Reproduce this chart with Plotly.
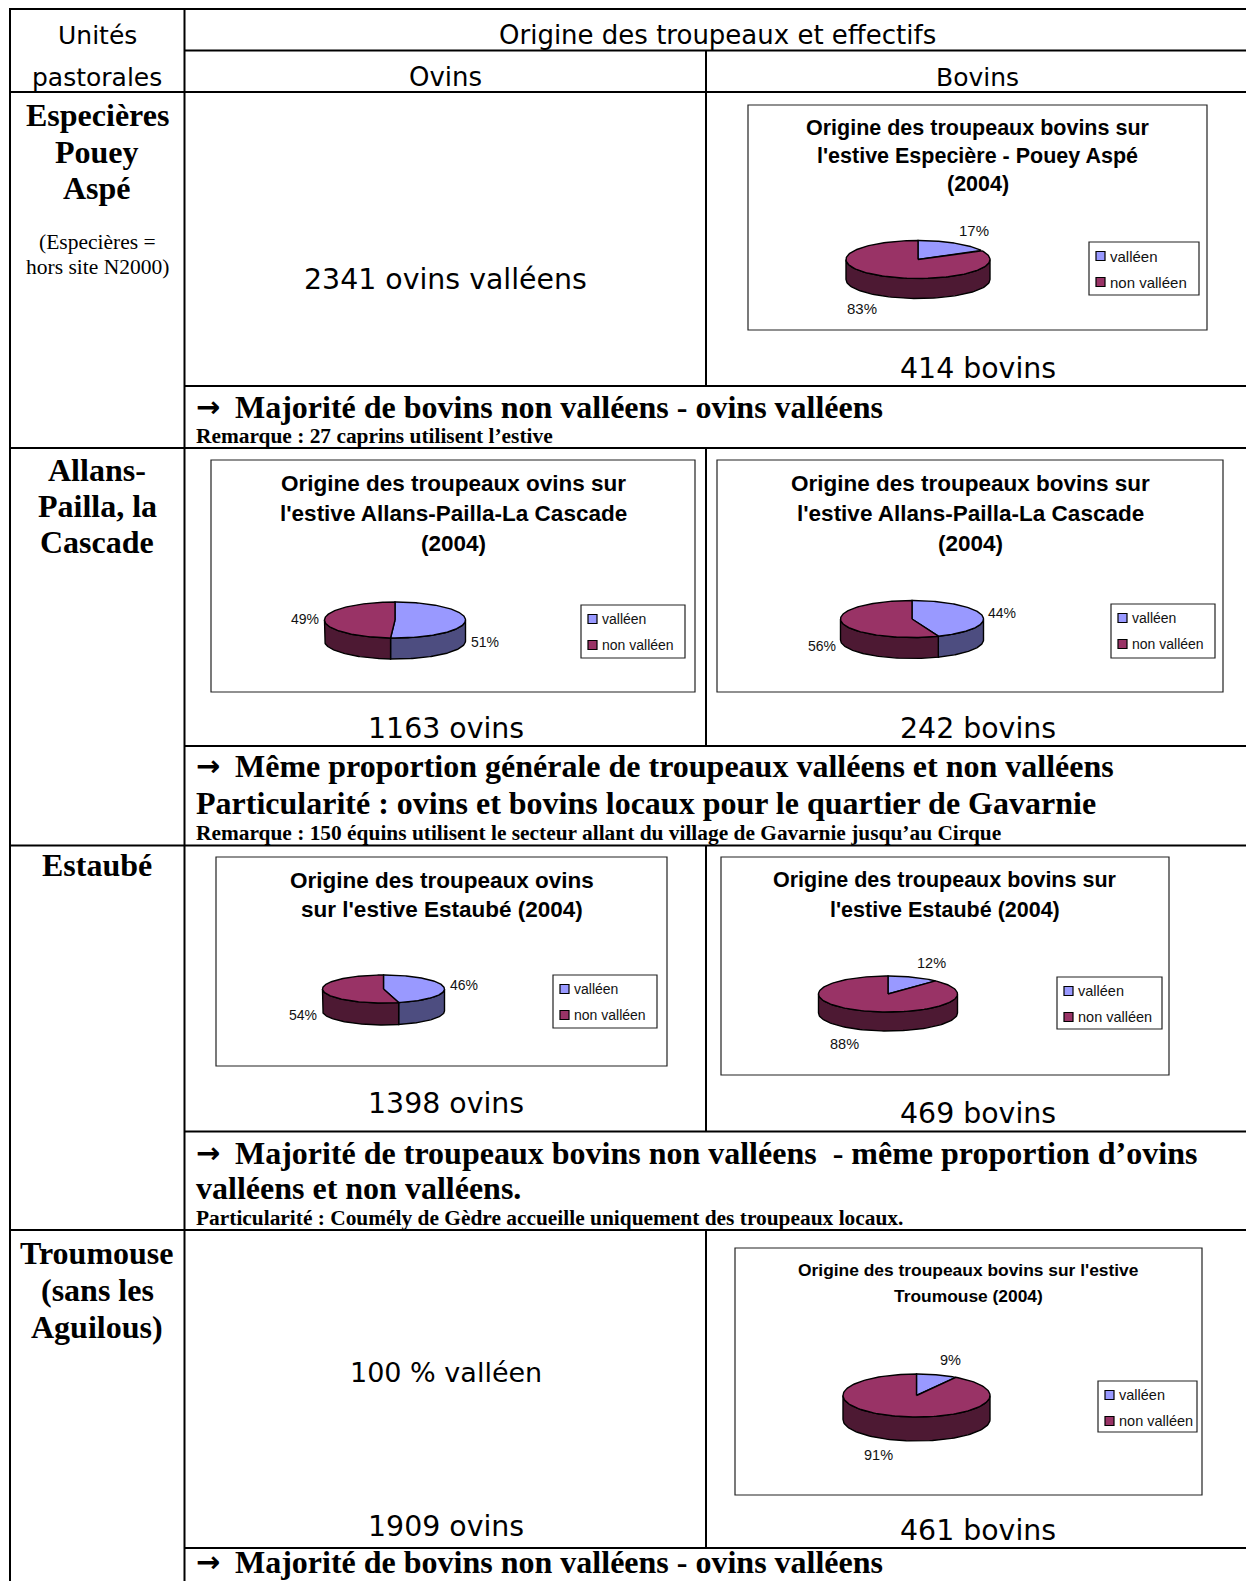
import numpy as np
import plotly.graph_objects as go

W, H = 1246, 1581

# ---------------- data ----------------
categories = ["valléen", "non valléen"]
top_colors = ["#9999FF", "#993366"]
side_colors = ["#4D4D80", "#4D1933"]

unit_names = [["Especières", "Pouey", "Aspé"],
              ["Allans-", "Pailla, la", "Cascade"],
              ["Estaubé"],
              ["Troumouse", "(sans les", "Aguilous)"]]
unit_note = ["(Especières =", "hors site N2000)"]

ovins_counts = [2341, 1163, 1398, 1909]
bovins_counts = [414, 242, 469, 461]

pct_bov_especiere = [17, 83]
pct_ov_allans = [51, 49]
pct_bov_allans = [44, 56]
pct_ov_estaube = [46, 54]
pct_bov_estaube = [12, 88]
pct_bov_troumouse = [9, 91]

header_units = ["Unités", "pastorales"]
header_main = "Origine des troupeaux et effectifs"
header_cols = ["Ovins", "Bovins"]

ARROW = "→"
conclusions = [
    [("Majorité de bovins non valléens - ovins valléens", "arrow"),
     ("Remarque : 27 caprins utilisent l’estive", "small")],
    [("Même proportion générale de troupeaux valléens et non valléens", "arrow"),
     ("Particularité : ovins et bovins locaux pour le quartier de Gavarnie", "big"),
     ("Remarque : 150 équins utilisent le secteur allant du village de Gavarnie jusqu’au Cirque", "small")],
    [("Majorité de troupeaux bovins non valléens  - même proportion d’ovins", "arrow"),
     ("valléens et non valléens.", "big"),
     ("Particularité : Coumély de Gèdre accueille uniquement des troupeaux locaux.", "small")],
    [("Majorité de bovins non valléens - ovins valléens", "arrow")],
]

# ---------------- layout specs (positions / styles) ----------------
charts = [
    dict(title=["Origine des troupeaux bovins sur", "l'estive Especière - Pouey Aspé", "(2004)"],
         title_y=[128, 156, 184], tsize=21.5, values=pct_bov_especiere,
         box=(748, 105, 1207, 330), pie=(918, 259.5, 72, 19, 20),
         legend=(1089, 242, 1199, 295), lsize=15),
    dict(title=["Origine des troupeaux ovins sur", "l'estive Allans-Pailla-La Cascade", "(2004)"],
         title_y=[483, 513, 543], tsize=22.5, values=pct_ov_allans,
         box=(211, 460, 695, 692), pie=(395, 620, 70.5, 18, 21),
         legend=(581, 605, 685, 658), lsize=14),
    dict(title=["Origine des troupeaux bovins sur", "l'estive Allans-Pailla-La Cascade", "(2004)"],
         title_y=[483, 513, 543], tsize=22.5, values=pct_bov_allans,
         box=(717, 460, 1223, 692), pie=(912, 619, 71.5, 18.5, 21),
         legend=(1111, 604, 1215, 658), lsize=14),
    dict(title=["Origine des troupeaux ovins", "sur l'estive Estaubé (2004)"],
         title_y=[880, 909], tsize=22.5, values=pct_ov_estaube,
         box=(216, 857, 667, 1066), pie=(383.5, 989, 61, 14, 22),
         legend=(553, 975, 657, 1028), lsize=14),
    dict(title=["Origine des troupeaux bovins sur", "l'estive Estaubé (2004)"],
         title_y=[880, 910], tsize=21.5, values=pct_bov_estaube,
         box=(721, 857, 1169, 1075), pie=(888, 994, 69.5, 18, 19),
         legend=(1057, 977, 1162, 1029), lsize=14.5),
    dict(title=["Origine des troupeaux bovins sur l'estive", "Troumouse (2004)"],
         title_y=[1270, 1296], tsize=17.4, values=pct_bov_troumouse,
         box=(735, 1248, 1202, 1495), pie=(916.5, 1395.5, 73.5, 21.5, 24),
         legend=(1098, 1381, 1197, 1432), lsize=14.5),
]

SANS = "DejaVu Sans"
SERIF = "Liberation Serif"
ARIAL = "Liberation Sans"

fig = go.Figure()
shapes = []
annotations = []


def txt(x, y, text, size, family, bold=False, xanchor="center", yanchor="middle", color="black"):
    annotations.append(dict(
        x=x, y=y, xref="x", yref="y", text=("<b>%s</b>" % text) if bold else text,
        showarrow=False, xanchor=xanchor, yanchor=yanchor,
        font=dict(size=size, family=family, color=color)))


def hline(y, x0, x1, w=2):
    shapes.append(dict(type="line", xref="x", yref="y", x0=x0, x1=x1, y0=y, y1=y,
                       line=dict(color="black", width=w)))


def vline(x, y0, y1, w=2):
    shapes.append(dict(type="line", xref="x", yref="y", x0=x, x1=x, y0=y0, y1=y1,
                       line=dict(color="black", width=w)))


def rect(x0, y0, x1, y1, color="#333333", w=1, fill="rgba(0,0,0,0)"):
    shapes.append(dict(type="rect", xref="x", yref="y", x0=x0, x1=x1, y0=y0, y1=y1,
                       line=dict(color=color, width=w), fillcolor=fill))


def pie3d(spec):
    cx, cy, rx, ry, depth = spec["pie"]
    vals = np.array(spec["values"], dtype=float)
    fr = vals / vals.sum()
    ends = np.cumsum(fr) * 360.0
    starts = np.concatenate([[0.0], ends[:-1]])
    # side walls (front half: 90..270 deg clockwise from top)
    for i in range(len(vals)):
        a, b = max(starts[i], 90.0), min(ends[i], 270.0)
        if b <= a:
            continue
        t = np.radians(np.linspace(a, b, 80))
        xs = cx + rx * np.sin(t)
        ys = cy - ry * np.cos(t)
        px = np.concatenate([xs, xs[::-1], xs[:1]])
        py = np.concatenate([ys, ys[::-1] + depth, ys[:1]])
        fig.add_trace(go.Scatter(x=px, y=py, mode="lines", fill="toself",
                                 fillcolor=side_colors[i], line=dict(color="black", width=1.4),
                                 hoverinfo="skip", showlegend=False))
    # top faces
    for i in range(len(vals)):
        t = np.radians(np.linspace(starts[i], ends[i], 160))
        xs = np.concatenate([[cx], cx + rx * np.sin(t), [cx]])
        ys = np.concatenate([[cy], cy - ry * np.cos(t), [cy]])
        fig.add_trace(go.Scatter(x=xs, y=ys, mode="lines", fill="toself",
                                 fillcolor=top_colors[i], line=dict(color="black", width=1.4),
                                 hoverinfo="skip", showlegend=False))
    # percentage labels
    for i in range(len(vals)):
        m = np.radians((starts[i] + ends[i]) / 2.0)
        s, c = np.sin(m), np.cos(m)
        x = cx + (rx + 4) * s
        y = cy - (ry + 15) * c + (depth if c < 0 else 0)
        txt(x, y, "%d%%" % round(vals[i]), spec["lsize"], ARIAL,
            xanchor="left" if s > 0 else "right", color="#111111")


# ---------------- table grid ----------------
C0, C1, C2, XR = 10, 184.5, 706, W
hline(9, C0, XR)
hline(50.5, C1, XR)
hline(92, C0, XR)
row_inner = [386, 746, 1131.5, 1548]
row_lines = [448, 845.5, 1230]
for y in row_lines:
    hline(y, C0, XR)
for y in row_inner:
    hline(y, C1, XR)
vline(C0, 8, H)
vline(C1, 8, H)
col_spans = [(50.5, 386), (448, 746), (845.5, 1131.5), (1230, 1548)]
for y0, y1 in col_spans:
    vline(C2, y0, y1)

# ---------------- headers ----------------
txt(97, 35, header_units[0], 25, SANS)
txt(97, 77, header_units[1], 25, SANS)
txt(717, 35, header_main, 26, SANS)
txt(445.5, 77, header_cols[0], 26, SANS)
txt(977, 77, header_cols[1], 25, SANS)

# ---------------- left column ----------------
unit_ys = [[115, 151.5, 188], [470, 506, 542], [865], [1253, 1290, 1327]]
for names, ys in zip(unit_names, unit_ys):
    for n, y in zip(names, ys):
        txt(97, y, n, 32, SERIF, bold=True)
txt(97, 242, unit_note[0], 21.5, SERIF)
txt(97, 267, unit_note[1], 21.5, SERIF)

# ---------------- counts ----------------
OVX, BOX = 445.5, 977.5
txt(OVX, 279, "%d ovins valléens" % ovins_counts[0], 28.4, SANS)
txt(OVX, 728.5, "%d ovins" % ovins_counts[1], 28.4, SANS)
txt(OVX, 1103, "%d ovins" % ovins_counts[2], 28.4, SANS)
txt(OVX, 1372, "100 % valléen", 27, SANS)
txt(OVX, 1526, "%d ovins" % ovins_counts[3], 28.4, SANS)
bov_ys = [368.5, 728.5, 1113.5, 1530]
for cnt, y in zip(bovins_counts, bov_ys):
    txt(BOX, y, "%d bovins" % cnt, 28.4, SANS)

# ---------------- conclusions ----------------
concl_ys = [[407, 436], [766, 803, 833], [1153, 1188, 1218], [1562]]
for lines, ys in zip(conclusions, concl_ys):
    for (t, kind), y in zip(lines, ys):
        if kind == "arrow":
            txt(194, y, ARROW, 29, "DejaVu Sans", bold=True, xanchor="left")
            txt(233, y, t, 32, SERIF, bold=True, xanchor="left")
        elif kind == "big":
            txt(194, y, t, 32, SERIF, bold=True, xanchor="left")
        else:
            txt(194, y, t, 21.4, SERIF, bold=True, xanchor="left")

# ---------------- charts ----------------
for spec in charts:
    bx0, by0, bx1, by1 = spec["box"]
    rect(bx0, by0, bx1, by1, color="#222222", w=1.2)
    tcx = (bx0 + bx1) / 2.0
    for line, y in zip(spec["title"], spec["title_y"]):
        txt(tcx, y, line, spec["tsize"], ARIAL, bold=True)
    pie3d(spec)
    lx0, ly0, lx1, ly1 = spec["legend"]
    rect(lx0, ly0, lx1, ly1, color="#222222", w=1.2)
    for k, cat in enumerate(categories):
        yc = ly0 + 14 + 26 * k
        rect(lx0 + 7, yc - 4.5, lx0 + 16, yc + 4.5, color="black", w=1.2, fill=top_colors[k])
        txt(lx0 + 19, yc, cat, spec["lsize"], ARIAL, xanchor="left", color="#111111")

fig.update_layout(
    width=W, height=H, autosize=False,
    margin=dict(l=0, r=0, t=0, b=0, pad=0),
    paper_bgcolor="white", plot_bgcolor="white",
    xaxis=dict(range=[0, W], visible=False, fixedrange=True),
    yaxis=dict(range=[H, 0], visible=False, fixedrange=True),
    shapes=shapes, annotations=annotations, showlegend=False,
)

fig.write_html("out.html", config={"displayModeBar": False},
               post_script="document.body.style.margin='0';document.body.style.overflow='hidden';")
